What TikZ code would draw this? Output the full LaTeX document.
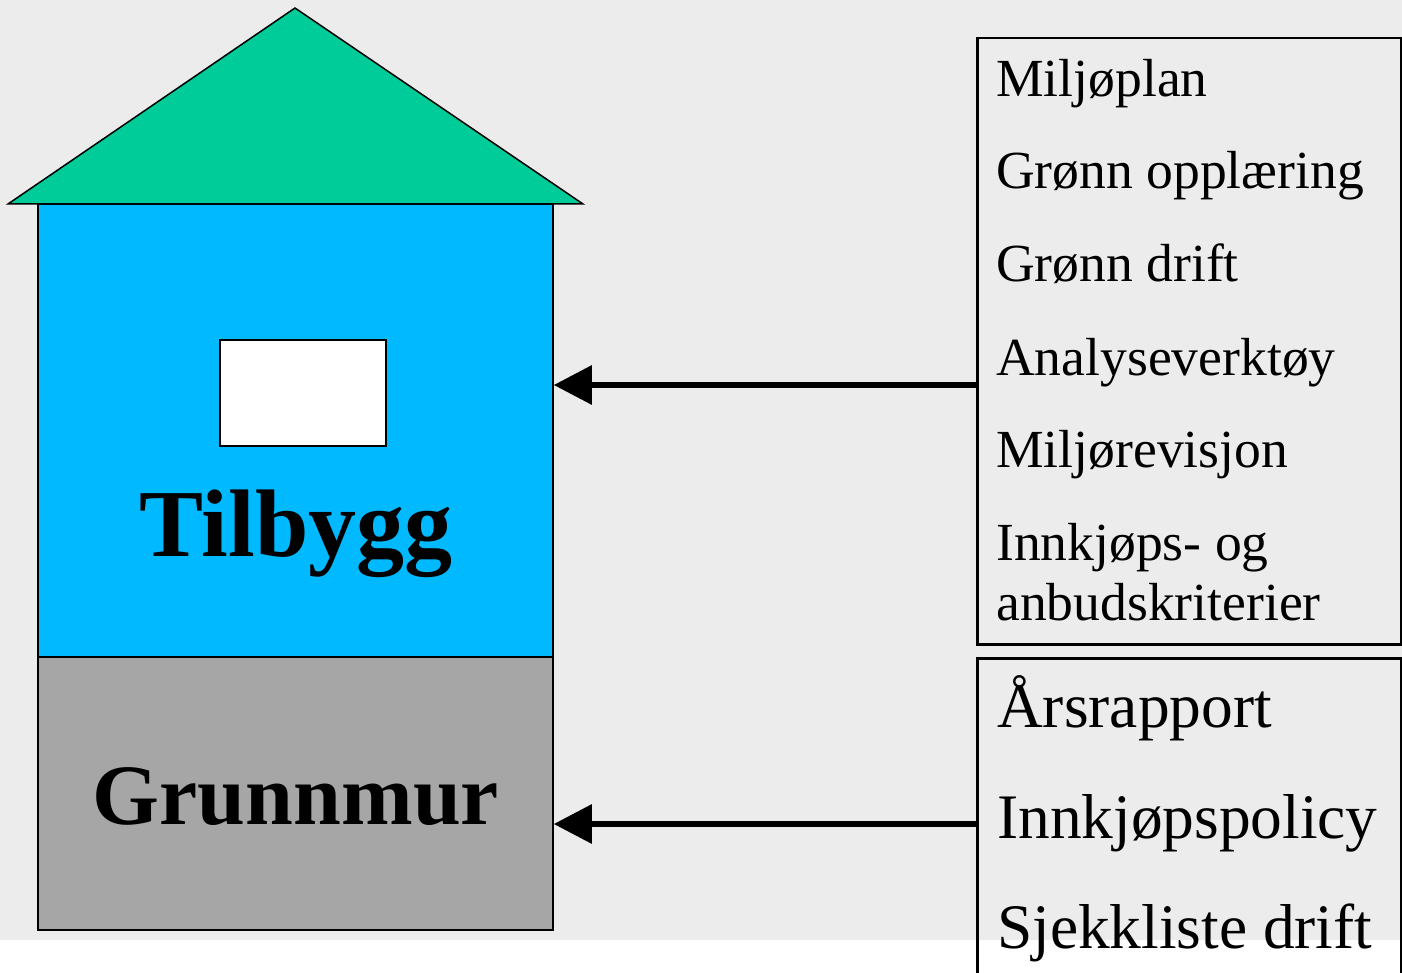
\documentclass[tikz,border=0pt]{standalone}
\usepackage{fontspec}
\setmainfont{Liberation Serif}
\usetikzlibrary{arrows.meta,positioning}
\definecolor{roofgreen}{RGB}{0,204,153}
\definecolor{wallblue}{RGB}{0,185,255}
\definecolor{basegrey}{RGB}{166,166,166}
\definecolor{paper}{RGB}{236,236,236}

\begin{document}
\begin{tikzpicture}[x=1pt, y=-1pt,
  block/.style={draw, line width=1.5pt, rectangle, inner sep=0pt},
  listbox/.style={draw, line width=2.5pt, rectangle, inner sep=0pt, anchor=north west},
  listitem/.style={anchor=base west, inner sep=0pt, font=\fontsize{53.6}{60}\selectfont},
  bigitem/.style={anchor=base west, inner sep=0pt, font=\fontsize{63.4}{70}\selectfont},
  housetext/.style={anchor=base, inner sep=0pt, font=\bfseries\fontsize{96}{100}\selectfont},
  feed/.style={line width=6pt, -{Triangle[length=38pt, width=38pt]}}]
\useasboundingbox (0,0) rectangle (1402,973);
\clip (0,0) rectangle (1402,973);
\fill[paper] (0,0) rectangle (1402,940);

% the house
\node[block, fill=wallblue, minimum width=515pt, minimum height=453pt] (tilbygg) at (295.5,430.5) {};
\node[block, fill=basegrey, minimum width=515pt, minimum height=273pt] (grunnmur) at (295.5,793.5) {};
\draw[line width=1.5pt, fill=roofgreen] (8,204) -- (295,8) -- (583,204) -- cycle;
\node[block, fill=white, minimum width=166pt, minimum height=106pt] (vindu) at (303,393) {};
\node[housetext] (tt) at (296,556) {Tilbygg};
\node[housetext, font=\bfseries\fontsize{86}{90}\selectfont] (tg) at (296,824) {Grunnmur};

% the two lists
\node[listbox, minimum width=424pt, minimum height=606pt] (liste1) at (976,37) {};
\node[listbox, minimum width=424pt, minimum height=340pt] (liste2) at (976,657) {};
\foreach \txt/\yy [count=\i] in {Miljøplan/97, Grønn opplæring/189, Grønn drift/282,
  Analyseverktøy/375, Miljørevisjon/467, Innkjøps- og/560, anbudskriterier/620}
  \node[listitem] (p\i) at (996,\yy) {\txt};
\foreach \txt/\yy [count=\i] in {Årsrapport/727, Innkjøpspolicy/838, Sjekkliste drift/948}
  \node[bigitem] (q\i) at (997,\yy) {\txt};

% arrows
\coordinate (a1) at (976,385);
\coordinate (a2) at (976,824);
\draw[feed] (a1) -- (a1 -| tilbygg.east);
\draw[feed] (a2) -- (a2 -| grunnmur.east);
\end{tikzpicture}
\end{document}
